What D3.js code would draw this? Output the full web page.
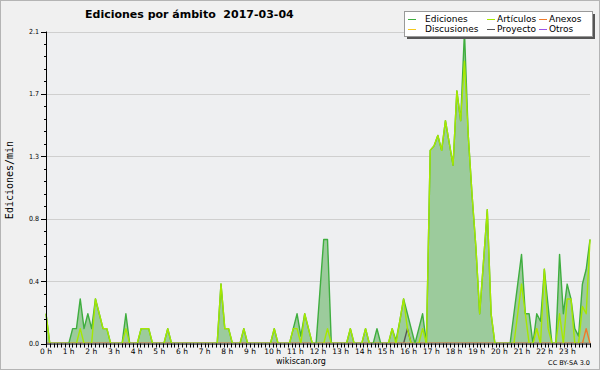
<!DOCTYPE html>
<html lang="es">
<head>
<meta charset="UTF-8">
<title>Ediciones por ámbito</title>
<script src="https://d3js.org/d3.v7.min.js"></script>
<style>
  body { margin: 0; background: #f0f0f0; }
  svg { display: block; }
  text { font-family: "DejaVu Sans", sans-serif; fill: #000; }
</style>
</head>
<body>
<div id="chart"></div>
<script>
// 10-minute bins, edits per minute (144 points, 00:00 -> 23:50)
const hours = d3.range(0, 24).map(h => h + " h");
const seriesNames = ["Ediciones", "Artículos", "Anexos", "Discusiones", "Proyecto", "Otros"];
const seriesColors = ["#3fae3f", "#a6e800", "#f07a2a", "#f5c81e", "#555555", "#9a52e6"];

const ediciones = [
  0.2, 0, 0, 0, 0, 0, 0, 0.1, 0.1, 0.3, 0.1, 0.2,
  0.1, 0.3, 0.2, 0.1, 0.1, 0, 0, 0, 0, 0.2, 0, 0,
  0, 0.1, 0.1, 0.1, 0, 0, 0, 0, 0.1, 0, 0, 0,
  0, 0, 0, 0, 0, 0, 0, 0, 0, 0, 0.4, 0.1,
  0.1, 0, 0, 0, 0.1, 0, 0, 0, 0, 0, 0, 0,
  0.1, 0, 0, 0, 0, 0.1, 0.2, 0.05, 0.2, 0.1, 0, 0,
  0.35, 0.7, 0.7, 0, 0, 0, 0, 0, 0.1, 0, 0, 0,
  0.1, 0, 0, 0.1, 0, 0, 0, 0.1, 0.02, 0.15, 0.3, 0.2,
  0.1, 0, 0.1, 0.2, 0, 1.3, 1.33, 1.4, 1.3, 1.5, 1.35, 1.2,
  1.7, 1.5, 2.1, 1.4, 1.0, 0.65, 0.2, 0.55, 0.9, 0.2, 0, 0,
  0, 0, 0, 0.2, 0.4, 0.6, 0.2, 0.2, 0, 0.2, 0.15, 0.5,
  0.25, 0, 0, 0.6, 0.2, 0.4, 0.3, 0.1, 0.05, 0.4, 0.5, 0.7
];
const articulos = [
  0.2, 0, 0, 0, 0, 0, 0, 0, 0, 0.1, 0, 0,
  0, 0.3, 0.2, 0.1, 0.1, 0, 0, 0, 0, 0.1, 0, 0,
  0, 0.1, 0.1, 0.1, 0, 0, 0, 0, 0.1, 0, 0, 0,
  0, 0, 0, 0, 0, 0, 0, 0, 0, 0, 0.4, 0.1,
  0.1, 0, 0, 0, 0.1, 0, 0, 0, 0, 0, 0, 0,
  0.1, 0, 0, 0, 0, 0.1, 0.1, 0, 0.2, 0.1, 0, 0,
  0, 0, 0.1, 0, 0, 0, 0, 0, 0.1, 0, 0, 0,
  0.1, 0, 0, 0, 0, 0, 0, 0.1, 0, 0.15, 0.3, 0.1,
  0, 0, 0, 0.1, 0, 1.3, 1.33, 1.4, 1.3, 1.5, 1.35, 1.2,
  1.7, 1.5, 1.9, 1.4, 1.0, 0.65, 0.2, 0.55, 0.9, 0.2, 0, 0,
  0, 0, 0, 0, 0.2, 0.4, 0.2, 0, 0, 0.1, 0, 0.5,
  0.1, 0, 0, 0.2, 0, 0.3, 0.3, 0, 0, 0.25, 0.2, 0.7
];
const anexos = [
  0, 0, 0, 0, 0, 0, 0, 0, 0, 0, 0, 0,
  0, 0, 0, 0, 0, 0, 0, 0, 0, 0, 0, 0,
  0, 0, 0, 0, 0, 0, 0, 0, 0, 0, 0, 0,
  0, 0, 0, 0, 0, 0, 0, 0, 0, 0, 0, 0,
  0, 0, 0, 0, 0, 0, 0, 0, 0, 0, 0, 0,
  0, 0, 0, 0, 0, 0, 0, 0, 0, 0, 0, 0,
  0, 0, 0, 0, 0, 0, 0, 0, 0, 0, 0, 0,
  0, 0, 0, 0, 0, 0, 0, 0, 0, 0, 0, 0,
  0, 0, 0, 0, 0, 0, 0, 0, 0, 0, 0, 0,
  0, 0, 0, 0, 0, 0, 0, 0, 0, 0, 0, 0,
  0, 0, 0, 0, 0, 0, 0, 0, 0, 0, 0, 0,
  0, 0, 0, 0, 0, 0, 0, 0, 0, 0, 0.1, 0
];
const discusiones = [
  0, 0, 0, 0, 0, 0, 0, 0, 0, 0, 0, 0,
  0, 0, 0, 0, 0, 0, 0, 0, 0, 0, 0, 0,
  0, 0, 0, 0, 0, 0, 0, 0, 0, 0, 0, 0,
  0, 0, 0, 0, 0, 0, 0, 0, 0, 0, 0, 0,
  0, 0, 0, 0, 0, 0, 0, 0, 0, 0, 0, 0,
  0, 0, 0, 0, 0, 0, 0, 0, 0, 0, 0, 0,
  0, 0, 0, 0, 0, 0, 0, 0, 0, 0, 0, 0,
  0, 0, 0, 0, 0, 0, 0, 0, 0, 0, 0, 0,
  0, 0, 0, 0, 0, 0, 0, 0, 0, 0, 0, 0,
  0, 0, 0, 0, 0, 0, 0, 0, 0, 0, 0, 0,
  0, 0, 0, 0, 0, 0, 0, 0, 0, 0.1, 0, 0,
  0, 0, 0, 0, 0, 0, 0, 0, 0, 0, 0, 0
];
const proyecto = [
  0, 0, 0, 0, 0, 0, 0, 0, 0, 0, 0, 0,
  0, 0, 0, 0, 0, 0, 0, 0, 0, 0, 0, 0,
  0, 0, 0, 0, 0, 0, 0, 0, 0, 0, 0, 0,
  0, 0, 0, 0, 0, 0, 0, 0, 0, 0, 0, 0,
  0, 0, 0, 0, 0, 0, 0, 0, 0, 0, 0, 0,
  0, 0, 0, 0, 0, 0, 0, 0, 0, 0, 0, 0,
  0, 0, 0, 0, 0, 0, 0, 0, 0, 0, 0, 0,
  0, 0, 0, 0, 0, 0, 0, 0, 0, 0, 0, 0.1,
  0, 0, 0, 0, 0, 0, 0, 0, 0, 0, 0, 0,
  0, 0, 0, 0, 0, 0, 0, 0, 0, 0, 0, 0,
  0, 0, 0, 0, 0, 0, 0, 0, 0, 0, 0, 0,
  0, 0, 0, 0, 0, 0, 0, 0, 0, 0, 0, 0
];
const otros = [
  0, 0, 0, 0, 0, 0, 0, 0, 0, 0, 0, 0,
  0, 0, 0, 0, 0, 0, 0, 0, 0, 0, 0, 0,
  0, 0, 0, 0, 0, 0, 0, 0, 0, 0, 0, 0,
  0, 0, 0, 0, 0, 0, 0, 0, 0, 0, 0, 0,
  0, 0, 0, 0, 0, 0, 0, 0, 0, 0, 0, 0,
  0, 0, 0, 0, 0, 0, 0, 0, 0, 0, 0, 0,
  0, 0, 0, 0, 0, 0, 0, 0, 0, 0, 0, 0,
  0, 0, 0, 0, 0, 0, 0, 0, 0, 0, 0, 0,
  0, 0, 0, 0, 0, 0, 0, 0, 0, 0, 0, 0,
  0, 0, 0, 0, 0, 0, 0, 0, 0, 0, 0, 0,
  0, 0, 0, 0, 0, 0, 0, 0, 0, 0, 0, 0,
  0, 0, 0, 0, 0, 0, 0, 0, 0, 0, 0, 0
];

const W = 600, H = 370;
const plot = { left: 46, right: 590, top: 31.5, bottom: 343.5 };

const svg = d3.select("#chart").append("svg")
  .attr("width", W)
  .attr("height", H);

// background + frame
svg.append("rect")
  .attr("x", 0.5).attr("y", 0.5)
  .attr("width", W - 1).attr("height", H - 1)
  .attr("fill", "#f0f0f0")
  .attr("stroke", "#b4b4b4");
svg.append("rect")
  .attr("x", plot.left).attr("y", plot.top)
  .attr("width", plot.right - plot.left).attr("height", plot.bottom - plot.top)
  .attr("fill", "#eeeff1");

// keep the zero-level parts of the lines under the baseline
svg.append("clipPath").attr("id", "plot-clip")
  .append("rect")
  .attr("x", plot.left - 2).attr("y", plot.top - 4)
  .attr("width", plot.right - plot.left + 4)
  .attr("height", plot.bottom - plot.top + 3.6);

const x = d3.scaleLinear().domain([0, ediciones.length - 1]).range([plot.left, plot.right]);
const xHour = d3.scaleLinear().domain([0, 24]).range([plot.left, plot.right]);
const y = d3.scaleLinear().domain([0, 2.1]).range([plot.bottom, plot.top]);

// horizontal grid
const majorY = d3.range(0, 6).map(k => k * 0.42);
const minorY = d3.range(0, 26).map(k => k * 0.084);
svg.append("g").selectAll("line")
  .data(majorY)
  .join("line")
  .attr("x1", plot.left).attr("x2", plot.right)
  .attr("y1", d => Math.round(y(d)) + 0.5).attr("y2", d => Math.round(y(d)) + 0.5)
  .attr("stroke", "#cfcfcf");

// area + lines
const area = d3.area()
  .x((d, i) => x(i))
  .y0(y(0))
  .y1(d => y(d));
const line = d3.line()
  .x((d, i) => x(i))
  .y(d => y(d));

const marks = svg.append("g").attr("clip-path", "url(#plot-clip)");
marks.append("path")
  .datum(ediciones)
  .attr("d", area)
  .attr("fill", "#9ccb9c");

const drawOrder = [
  [otros, 5], [proyecto, 4], [discusiones, 3], [anexos, 2], [ediciones, 0], [articulos, 1]
];
drawOrder.forEach(([data, k]) => {
  marks.append("path")
    .datum(data)
    .attr("d", line)
    .attr("fill", "none")
    .attr("stroke", seriesColors[k])
    .attr("stroke-width", 1.4)
    .attr("stroke-linejoin", "round");
});

// y axis
const yAxis = svg.append("g");
yAxis.append("line")
  .attr("x1", plot.left + 0.5).attr("x2", plot.left + 0.5)
  .attr("y1", plot.top).attr("y2", plot.bottom + 1)
  .attr("stroke", "#000");
yAxis.selectAll(".minor")
  .data(minorY)
  .join("line")
  .attr("x1", plot.left - 2).attr("x2", plot.left)
  .attr("y1", d => Math.round(y(d)) + 0.5).attr("y2", d => Math.round(y(d)) + 0.5)
  .attr("stroke", "#000");
yAxis.selectAll(".major")
  .data(majorY)
  .join("line")
  .attr("x1", plot.left - 5).attr("x2", plot.left)
  .attr("y1", d => Math.round(y(d)) + 0.5).attr("y2", d => Math.round(y(d)) + 0.5)
  .attr("stroke", "#000");
yAxis.selectAll("text")
  .data(majorY)
  .join("text")
  .attr("x", plot.left - 7)
  .attr("y", d => y(d) + 2.5)
  .attr("text-anchor", "end")
  .style("font-size", "7px")
  .style("font-family", "'DejaVu Sans Condensed', 'DejaVu Sans', sans-serif")
  .attr("fill", "#333")
  .text(d => d3.format(".1f")(d));

// x axis
const xAxis = svg.append("g");
xAxis.append("line")
  .attr("x1", plot.left).attr("x2", plot.right + 1)
  .attr("y1", plot.bottom + 0.5).attr("y2", plot.bottom + 0.5)
  .attr("stroke", "#000");
xAxis.selectAll(".tick")
  .data(d3.range(0, 24 * 6 + 1))
  .join("line")
  .attr("x1", d => Math.round(xHour(d / 6)) + 0.5).attr("x2", d => Math.round(xHour(d / 6)) + 0.5)
  .attr("y1", plot.bottom).attr("y2", plot.bottom + 4)
  .attr("stroke", "#000");
xAxis.selectAll("text")
  .data(hours)
  .join("text")
  .attr("x", (d, i) => xHour(i))
  .attr("y", plot.bottom + 10)
  .attr("text-anchor", "middle")
  .style("font-size", "7.5px")
  .attr("fill", "#333")
  .text(d => d);

// y label
svg.append("text")
  .attr("transform", "translate(13,180) rotate(-90)")
  .attr("text-anchor", "middle")
  .style("font-family", "'DejaVu Sans Mono', monospace")
  .style("font-size", "10px")
  .text("Ediciones/min");

// title
svg.append("text")
  .attr("x", 85).attr("y", 18)
  .style("font-weight", "bold")
  .style("font-size", "11px")
  .attr("xml:space", "preserve")
  .text("Ediciones por ámbito  2017-03-04");

// footer
svg.append("text")
  .attr("x", 301).attr("y", 364)
  .attr("text-anchor", "middle")
  .style("font-size", "8px")
  .attr("fill", "#333")
  .text("wikiscan.org");
svg.append("text")
  .attr("x", 590).attr("y", 365)
  .attr("text-anchor", "end")
  .style("font-size", "6.5px")
  .attr("fill", "#333")
  .text("CC BY-SA 3.0");

// legend
const legend = svg.append("g");
legend.append("rect")
  .attr("x", 407).attr("y", 14)
  .attr("width", 188).attr("height", 25)
  .attr("fill", "#555");
legend.append("rect")
  .attr("x", 404.5).attr("y", 11.5)
  .attr("width", 188).attr("height", 25)
  .attr("fill", "#fff")
  .attr("stroke", "#999");
const legendPos = [
  [408, 19], [487, 19], [539, 19],
  [408, 29], [487, 29], [539, 29]
];
seriesNames.forEach((name, k) => {
  const [lx, ly] = legendPos[k];
  legend.append("line")
    .attr("x1", lx).attr("x2", lx + 8)
    .attr("y1", ly + 0.5).attr("y2", ly + 0.5)
    .attr("stroke", seriesColors[k]);
  legend.append("text")
    .attr("x", lx + (k % 3 === 0 ? 17 : 10))
    .attr("y", ly + 3)
    .style("font-size", "9px")
    .attr("fill", "#222")
    .text(name);
});
</script>
</body>
</html>
